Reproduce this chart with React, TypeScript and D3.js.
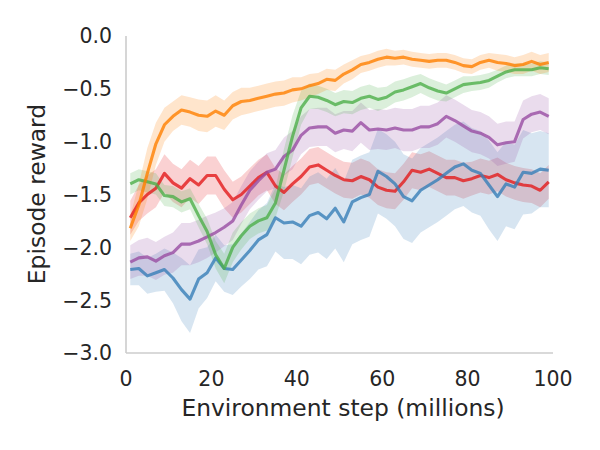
import React from "react";
import * as d3 from "d3";

const steps = [1,3,5,7,9,11,13,15,17,19,21,23,25,27,29,31,33,35,37,39,41,43,45,47,49,51,53,55,57,59,61,63,65,67,69,71,73,75,77,79,81,83,85,87,89,91,93,95,97,99];

const orangeMean = [-1.82,-1.60,-1.30,-1.02,-0.84,-0.76,-0.70,-0.72,-0.75,-0.76,-0.71,-0.75,-0.66,-0.62,-0.61,-0.59,-0.57,-0.55,-0.54,-0.51,-0.50,-0.47,-0.45,-0.41,-0.42,-0.36,-0.32,-0.27,-0.25,-0.22,-0.20,-0.21,-0.20,-0.22,-0.23,-0.24,-0.23,-0.23,-0.25,-0.28,-0.29,-0.25,-0.23,-0.25,-0.26,-0.28,-0.27,-0.24,-0.27,-0.25];
const orangeSpread = [0.12,0.2,0.24,0.2,0.16,0.14,0.14,0.14,0.15,0.15,0.15,0.14,0.13,0.13,0.12,0.12,0.12,0.12,0.12,0.12,0.11,0.11,0.1,0.1,0.1,0.09,0.09,0.08,0.08,0.08,0.08,0.07,0.07,0.07,0.07,0.07,0.07,0.07,0.07,0.07,0.07,0.07,0.07,0.08,0.08,0.08,0.09,0.09,0.09,0.09];

const greenMean = [-1.40,-1.36,-1.38,-1.40,-1.51,-1.52,-1.57,-1.54,-1.70,-1.85,-2.07,-2.20,-2.00,-1.89,-1.80,-1.75,-1.72,-1.58,-1.27,-0.95,-0.68,-0.57,-0.58,-0.61,-0.65,-0.62,-0.63,-0.59,-0.57,-0.60,-0.58,-0.53,-0.51,-0.48,-0.45,-0.49,-0.52,-0.54,-0.50,-0.46,-0.45,-0.44,-0.42,-0.38,-0.34,-0.32,-0.32,-0.32,-0.30,-0.31];
const greenSpread = [0.1,0.1,0.1,0.1,0.1,0.1,0.1,0.1,0.11,0.12,0.13,0.14,0.14,0.13,0.12,0.12,0.12,0.14,0.2,0.2,0.16,0.12,0.11,0.11,0.11,0.11,0.11,0.11,0.11,0.11,0.1,0.1,0.1,0.1,0.09,0.09,0.09,0.08,0.08,0.08,0.07,0.07,0.07,0.06,0.06,0.06,0.06,0.06,0.06,0.06];

const purpleMean = [-2.14,-2.10,-2.09,-2.13,-2.08,-2.05,-1.97,-1.97,-1.94,-1.90,-1.86,-1.81,-1.75,-1.60,-1.46,-1.37,-1.29,-1.26,-1.14,-1.08,-0.94,-0.87,-0.86,-0.86,-0.92,-0.89,-0.90,-0.82,-0.89,-0.88,-0.89,-0.87,-0.89,-0.89,-0.86,-0.86,-0.83,-0.76,-0.80,-0.85,-0.90,-0.92,-0.96,-1.03,-1.01,-1.00,-0.79,-0.74,-0.72,-0.76];
const purpleSpread = [0.16,0.17,0.18,0.18,0.18,0.19,0.2,0.2,0.2,0.2,0.19,0.18,0.18,0.18,0.18,0.18,0.18,0.18,0.18,0.18,0.18,0.18,0.18,0.18,0.18,0.18,0.19,0.19,0.19,0.19,0.19,0.19,0.2,0.2,0.2,0.2,0.2,0.2,0.2,0.2,0.2,0.2,0.2,0.2,0.2,0.19,0.18,0.17,0.17,0.17];

const redMean = [-1.72,-1.58,-1.50,-1.44,-1.30,-1.39,-1.44,-1.35,-1.41,-1.32,-1.32,-1.45,-1.55,-1.50,-1.42,-1.34,-1.29,-1.42,-1.48,-1.40,-1.33,-1.24,-1.22,-1.27,-1.32,-1.36,-1.37,-1.33,-1.36,-1.43,-1.46,-1.47,-1.38,-1.27,-1.29,-1.26,-1.30,-1.34,-1.34,-1.37,-1.35,-1.32,-1.34,-1.31,-1.36,-1.39,-1.41,-1.42,-1.46,-1.38];
const redSpread = [0.16,0.17,0.18,0.18,0.18,0.18,0.18,0.18,0.18,0.18,0.18,0.18,0.17,0.17,0.17,0.17,0.17,0.17,0.17,0.17,0.17,0.17,0.17,0.17,0.17,0.17,0.17,0.17,0.17,0.17,0.17,0.17,0.17,0.17,0.17,0.17,0.17,0.17,0.17,0.17,0.16,0.16,0.16,0.16,0.16,0.16,0.16,0.16,0.16,0.16];

const blueMean = [-2.21,-2.20,-2.27,-2.24,-2.21,-2.29,-2.40,-2.49,-2.30,-2.24,-2.10,-2.20,-2.21,-2.12,-2.03,-1.93,-1.88,-1.72,-1.77,-1.76,-1.80,-1.70,-1.67,-1.73,-1.63,-1.76,-1.57,-1.53,-1.50,-1.28,-1.33,-1.40,-1.52,-1.56,-1.46,-1.41,-1.36,-1.30,-1.24,-1.21,-1.27,-1.30,-1.41,-1.52,-1.40,-1.43,-1.29,-1.30,-1.26,-1.27];
const blueSpread = [0.15,0.16,0.17,0.18,0.2,0.24,0.3,0.32,0.28,0.24,0.22,0.22,0.24,0.25,0.27,0.28,0.3,0.32,0.34,0.35,0.36,0.37,0.38,0.38,0.38,0.38,0.4,0.4,0.4,0.4,0.4,0.4,0.4,0.4,0.4,0.4,0.4,0.4,0.4,0.4,0.4,0.4,0.42,0.42,0.4,0.4,0.4,0.38,0.36,0.35];

const xTicks = [0, 20, 40, 60, 80, 100];
const yTicks = [0.0, -0.5, -1.0, -1.5, -2.0, -2.5, -3.0];

const seriesList = [
  { name: "red", color: "#e41a1c", mean: redMean, spread: redSpread },
  { name: "blue", color: "#377eb8", mean: blueMean, spread: blueSpread },
  { name: "purple", color: "#984ea3", mean: purpleMean, spread: purpleSpread },
  { name: "green", color: "#4daf4a", mean: greenMean, spread: greenSpread },
  { name: "orange", color: "#ff7f00", mean: orangeMean, spread: orangeSpread },
];

export default function App() {
  const W = 600, H = 450;
  const left = 126, right = 553, top = 36, bottom = 353;
  const x = d3.scaleLinear().domain([0, 100]).range([left, right]);
  const y = d3.scaleLinear().domain([-3, 0]).range([bottom, top]);
  const font = "'DejaVu Sans', sans-serif";

  return (
    <svg width={W} height={H} style={{ position: "absolute", left: 0, top: 0, background: "#fff" }}>
      <rect x={0} y={0} width={W} height={H} fill="#fff" />
      {seriesList.map((s) => {
        const a = d3.area<number>()
          .x((_, i) => x(steps[i]))
          .y0((d, i) => y(d - s.spread[i]))
          .y1((d, i) => y(d + s.spread[i]));
        return <path key={s.name + "band"} d={a(s.mean) || ""} fill={s.color} fillOpacity={0.2} stroke="none" />;
      })}
      {seriesList.map((s) => {
        const l = d3.line<number>().x((_, i) => x(steps[i])).y((d) => y(d));
        return <path key={s.name + "line"} d={l(s.mean) || ""} fill="none" stroke={s.color} strokeOpacity={0.8} strokeWidth={3.1} strokeLinejoin="round" />;
      })}
      <line x1={left} x2={left} y1={top} y2={bottom} stroke="#cccccc" strokeWidth={1.6} />
      <line x1={left} x2={right} y1={bottom} y2={bottom} stroke="#cccccc" strokeWidth={1.6} />
      {yTicks.map((t) => (
        <text key={"y" + t} x={112} y={y(t)} dy="0.36em" textAnchor="end" fontFamily={font} fontSize={20.5} fill="#262626">
          {t === 0 ? "0.0" : "\u2212" + Math.abs(t).toFixed(1)}
        </text>
      ))}
      {xTicks.map((t) => (
        <text key={"x" + t} x={x(t)} y={386} textAnchor="middle" fontFamily={font} fontSize={20.5} fill="#262626">
          {t}
        </text>
      ))}
      <text x={343} y={416} textAnchor="middle" fontFamily={font} fontSize={23.4} fill="#262626">
        Environment step (millions)
      </text>
      <text transform={`translate(45, 194) rotate(-90)`} textAnchor="middle" fontFamily={font} fontSize={23.4} fill="#262626">
        Episode reward
      </text>
    </svg>
  );
}
